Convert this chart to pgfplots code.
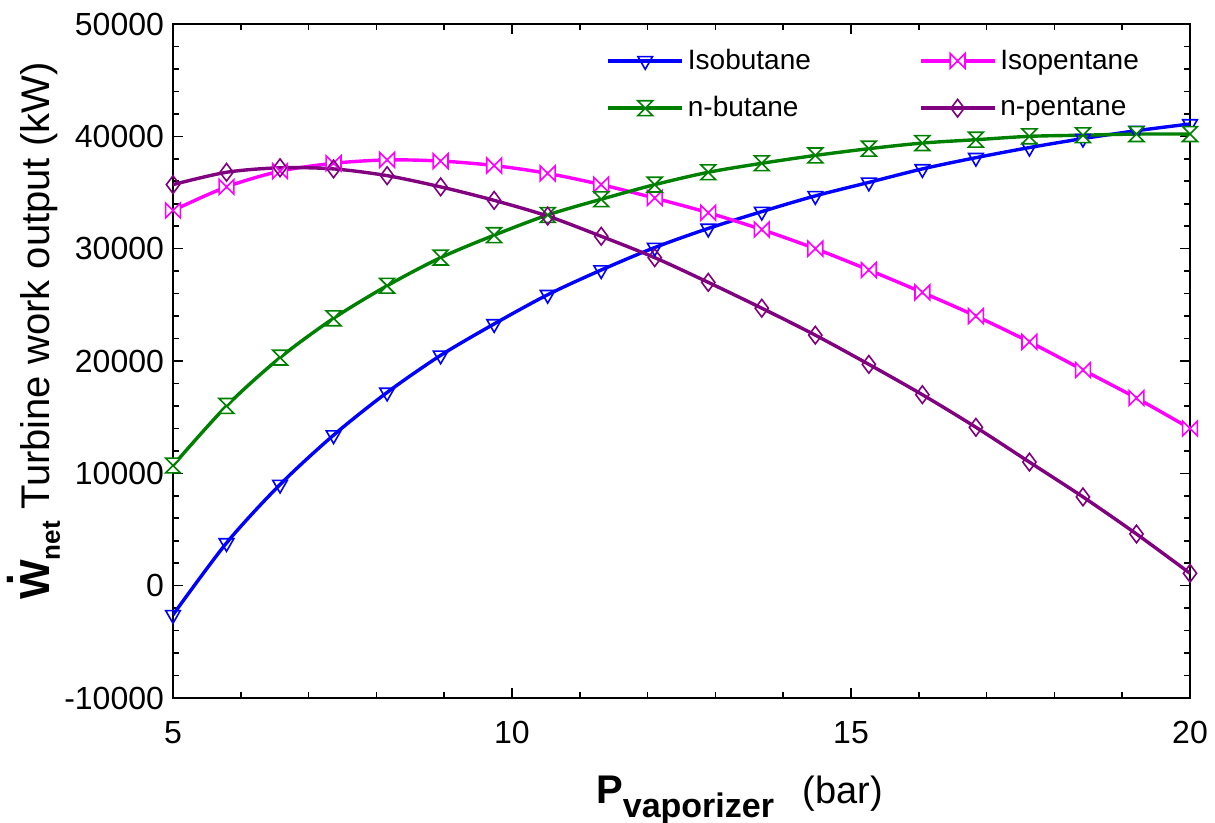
\documentclass[border=0pt]{standalone}
\usepackage{fontspec}
\setmainfont{Liberation Sans}
\usepackage{pgfplots}
\pgfplotsset{compat=1.18}
\definecolor{cblue}{RGB}{0,0,255}
\definecolor{cgreen}{RGB}{0,128,0}
\definecolor{cmag}{RGB}{255,0,255}
\definecolor{cpur}{RGB}{128,0,128}
\pgfdeclareplotmark{bowtieh}{%
  \pgfpathmoveto{\pgfqpoint{-\pgfplotmarksize}{\pgfplotmarksize}}%
  \pgfpathlineto{\pgfqpoint{\pgfplotmarksize}{-\pgfplotmarksize}}%
  \pgfpathlineto{\pgfqpoint{\pgfplotmarksize}{\pgfplotmarksize}}%
  \pgfpathlineto{\pgfqpoint{-\pgfplotmarksize}{-\pgfplotmarksize}}%
  \pgfpathclose\pgfusepathqfillstroke}
\pgfdeclareplotmark{bowtiev}{%
  \pgfpathmoveto{\pgfqpoint{-\pgfplotmarksize}{\pgfplotmarksize}}%
  \pgfpathlineto{\pgfqpoint{\pgfplotmarksize}{\pgfplotmarksize}}%
  \pgfpathlineto{\pgfqpoint{-\pgfplotmarksize}{-\pgfplotmarksize}}%
  \pgfpathlineto{\pgfqpoint{\pgfplotmarksize}{-\pgfplotmarksize}}%
  \pgfpathclose\pgfusepathqfillstroke}
\pgfplotstableread{
x iso nbut ipen npen
5.0000 -2600 10700 33400 35700
5.7895 3800 16000 35500 36800
6.5789 9000 20300 36900 37200
7.3684 13400 23800 37600 37100
8.1579 17200 26700 37900 36500
8.9474 20500 29200 37800 35500
9.7368 23300 31200 37400 34300
10.5263 25900 33000 36700 32900
11.3158 28100 34400 35700 31100
12.1053 30100 35700 34500 29200
12.8947 31800 36800 33200 27000
13.6842 33300 37600 31700 24700
14.4737 34700 38300 30000 22300
15.2632 35900 38900 28100 19700
16.0526 37100 39400 26100 17000
16.8421 38100 39700 24000 14100
17.6316 39000 40000 21700 11000
18.4211 39800 40100 19200 7900
19.2105 40500 40200 16700 4600
20.0000 41100 40200 14000 1100
}\data
\begin{document}
\begin{tikzpicture}
\begin{axis}[
  scale only axis, width=508.5pt, height=337pt,
  xmin=5, xmax=20, ymin=-10000, ymax=50000,
  xtick={5,10,15,20}, minor x tick num=4,
  ytick={-10000,0,10000,20000,30000,40000,50000}, minor y tick num=4,
  tick align=inside, major tick length=5pt, minor tick length=3pt,
  axis line style={line width=1pt}, every tick/.style={black, line width=0.8pt},
  /pgf/number format/assume math mode=true,
  /pgf/number format/set thousands separator={},
  scaled y ticks=false,
  tick label style={font=\fontsize{16}{19}\selectfont},
  xticklabel style={yshift=-8pt},
  yticklabel style={xshift=-1pt},
  ylabel={{\fontsize{21}{24}\selectfont\bfseries\rlap{\hspace{0.33em}\smash{\raisebox{0.86em}{.}}}W}{\fontsize{13}{15}\selectfont\bfseries\raisebox{-0.38em}{net}} Turbine work output (kW)},
  ylabel style={at={(axis description cs:-0.121,0.5445)}, anchor=base, font=\fontsize{20}{24}\selectfont},
  xlabel={{\fontsize{20}{24}\selectfont\bfseries P}{\fontsize{17}{19}\selectfont\bfseries\raisebox{-0.4em}{vaporizer}}\hspace{0.75em}(bar)},
  xlabel style={at={(axis description cs:0.5,0)}, anchor=center, xshift=29pt, yshift=-51pt, font=\fontsize{19}{22}\selectfont},
  legend columns=2,
  legend style={at={(axis description cs:0.42,0.975)}, anchor=north west, draw=none, fill=none,
    font=\fontsize{14}{16}\selectfont, row sep=8pt,
    /tikz/every even column/.append style={column sep=52pt}},
  legend cell align=left,
  legend image code/.code={\draw[mark repeat=2,mark phase=2] plot coordinates {(0cm,0cm) (0.65cm,0cm) (1.3cm,0cm)};},
  every axis plot/.append style={line width=1.7pt, smooth, mark size=4.2pt},
]
\addplot[cblue, mark=triangle, mark options={solid, line width=0.8pt, fill=white, rotate=180}] table[x=x,y=iso]{\data};
\addlegendentry{Isobutane}
\addplot[cmag, mark=bowtieh, mark size=3.7pt, mark options={solid, line width=0.8pt, fill=white}] table[x=x,y=ipen]{\data};
\addlegendentry{Isopentane}
\addplot[cgreen, mark=bowtiev, mark size=3.7pt, mark options={solid, line width=0.8pt, fill=white}] table[x=x,y=nbut]{\data};
\addlegendentry{n-butane}
\addplot[cpur, mark=diamond, mark size=4.4pt, mark options={solid, line width=0.8pt, fill=white}] table[x=x,y=npen]{\data};
\addlegendentry{n-pentane}
\coordinate (ll) at (rel axis cs:0,0);
\coordinate (ur) at (rel axis cs:1,1);
\end{axis}
\pgfresetboundingbox
\path ([shift={(-86.5pt,-62.5pt)}]ll) rectangle ([shift={(12.5pt,12pt)}]ur);
\end{tikzpicture}
\end{document}
